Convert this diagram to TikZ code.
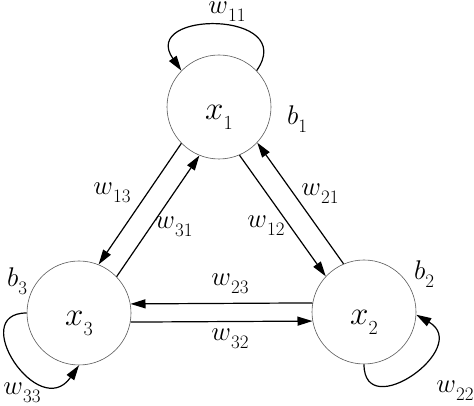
\RequirePackage{fix-cm}
\documentclass[tikz,border=0pt]{standalone}
\usepackage{graphicx}
\usepackage{tikz}
\usetikzlibrary{arrows.meta}
\newcommand{\lbl}[3][19]{$#2$\raisebox{-0.3em}{\fontsize{#1}{#1}\selectfont #3}}

\begin{document}
\begin{tikzpicture}[
        x=1pt, y=1pt,
        neuron/.style={circle, draw=black!65, line width=0.6pt, minimum size=104pt, inner sep=0pt,
            text height=26pt, text depth=0pt, font=\fontsize{33}{33}\selectfont},
        link/.style={line width=1.2pt, -{Triangle[length=15pt,width=9pt]}},
        lab/.style={font=\fontsize{27}{27}\selectfont, inner sep=0pt},
    ]
    \useasboundingbox (0,0) rectangle (474,406);
    % neurons
    \node[neuron] (x1) at (219,299) {\lbl[20]{x}{1}};
    \node[neuron] (x3) at (79,93) {\lbl[20]{x}{3}};
    \node[neuron] (x2) at (364,94) {\lbl[20]{x}{2}};
    % biases
    \node[lab] (b1) at (297,287) {\lbl{b}{1}};
    \node[lab] (b2) at (424,132) {\lbl{b}{2}};
    \node[lab] (b3) at (17,125) {\lbl{b}{3}};
    % weights between neurons
    \draw[link] (x1.224) -- (x3.68);
    \draw[link] (x3.44) -- (x1.248);
    \draw[link] (x1.293) -- (x2.137);
    \draw[link] (x2.113) -- (x1.317);
    \draw[link] (x2.170) -- (x3.10);
    \draw[link] (x3.-10) -- (x2.190);
    \node[lab] (w13) at (112,213) {\lbl{w}{13}};
    \node[lab] (w31) at (174,179) {\lbl{w}{31}};
    \node[lab] (w12) at (266,180) {\lbl{w}{12}};
    \node[lab] (w21) at (320,212) {\lbl{w}{21}};
    \node[lab] (w23) at (230,122) {\lbl{w}{23}};
    \node[lab] (w32) at (230,67) {\lbl{w}{32}};
    % self loops
    \draw[link] (x1.44) to[out=55, in=125, distance=74pt] (x1.136);
    \draw[link] (x3.180) to[out=180, in=235, out distance=60pt, in distance=70pt] (x3.270);
    \draw[link] (x2.270) to[out=270, in=330, out distance=60pt, in distance=65pt] (x2.357);
    \node[lab] (w11) at (227,394) {\lbl{w}{11}};
    \node[lab] (w33) at (22,13) {\lbl{w}{33}};
    \node[lab] (w22) at (455,15) {\lbl{w}{22}};
\end{tikzpicture}
\end{document}
